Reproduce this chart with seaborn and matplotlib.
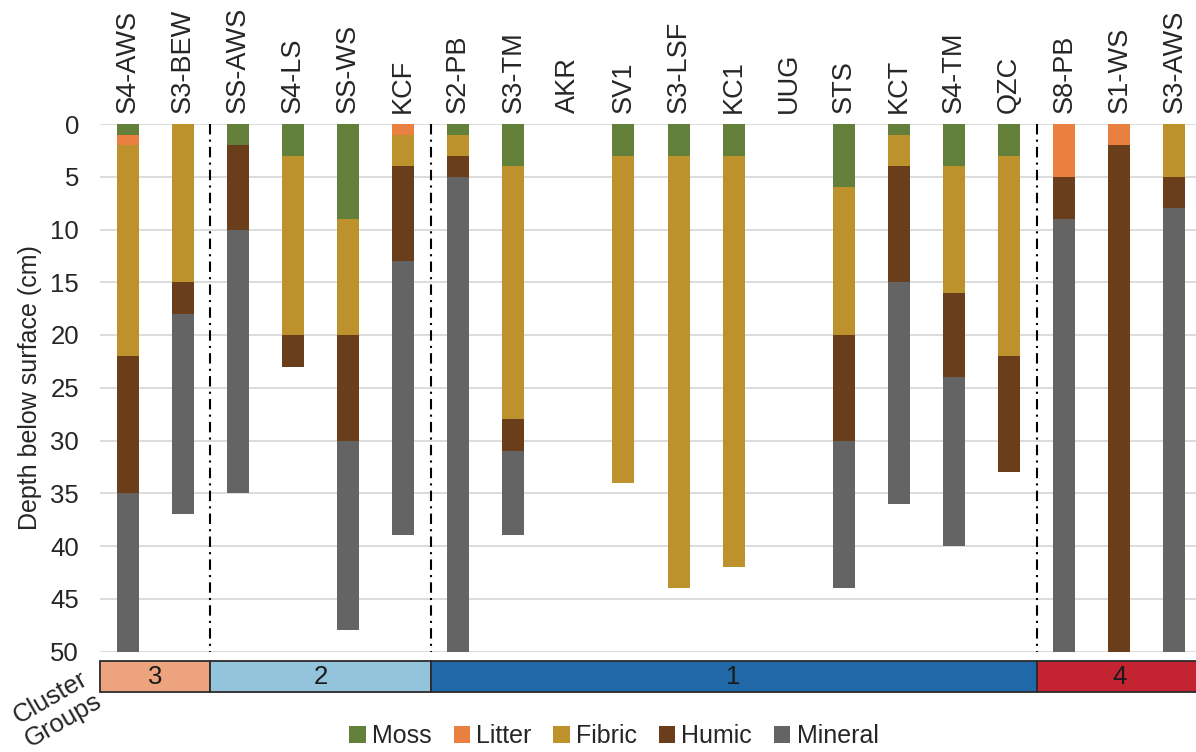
import numpy as np
import pandas as pd
import matplotlib
matplotlib.use("Agg")
import matplotlib.pyplot as plt
from matplotlib.patches import Patch, Rectangle
import seaborn as sns

# Sites (left to right) and horizon thicknesses in cm, from surface downward
sites = ["S4-AWS", "S3-BEW", "SS-AWS", "S4-LS", "SS-WS", "KCF", "S2-PB", "S3-TM",
         "AKR", "SV1", "S3-LSF", "KC1", "UUG", "STS", "KCT", "S4-TM", "QZC",
         "S8-PB", "S1-WS", "S3-AWS"]
moss    = [1, 0, 2, 3, 9, 0, 1, 4, 0, 3, 3, 3, 0, 6, 1, 4, 3, 0, 0, 0]
litter  = [1, 0, 0, 0, 0, 1, 0, 0, 0, 0, 0, 0, 0, 0, 0, 0, 0, 5, 2, 0]
fibric  = [20, 15, 0, 17, 11, 3, 2, 24, 0, 31, 41, 39, 0, 14, 3, 12, 19, 0, 0, 5]
humic   = [13, 3, 8, 3, 10, 9, 2, 3, 0, 0, 0, 0, 0, 10, 11, 8, 11, 4, 48, 3]
mineral = [15, 19, 25, 0, 18, 26, 45, 8, 0, 0, 0, 0, 0, 14, 21, 16, 0, 41, 0, 42]

layer_names = ["Moss", "Litter", "Fibric", "Humic", "Mineral"]
layer_colors = ["#63803b", "#ea8040", "#bd922d", "#6a3d1b", "#646464"]

# Cluster groups: label, first site index, last site index
cluster_labels = ["3", "2", "1", "4"]
cluster_start = [0, 2, 6, 17]
cluster_end = [1, 5, 16, 19]
cluster_colors = ["#eea37f", "#93c4dc", "#2068a8", "#c42331"]

W, H = 1196, 752
sns.set_style("white")
plt.rcParams["font.family"] = ["Liberation Sans", "DejaVu Sans"]

fig = plt.figure(figsize=(W / 100, H / 100), dpi=100)
ax = fig.add_axes([100 / W, 1 - 651.5 / H, 1102 / W, 527.5 / H])

df = pd.DataFrame({"site": sites, "Moss": moss, "Litter": litter,
                   "Fibric": fibric, "Humic": humic, "Mineral": mineral})
cum = df[layer_names].cumsum(axis=1)

# Stack by overdrawing cumulative depths, deepest horizon first
for name, color in zip(reversed(layer_names), reversed(layer_colors)):
    sns.barplot(x=df["site"], y=cum[name], order=sites, color=color,
                saturation=1, width=0.4, linewidth=0, ax=ax, zorder=3)

ax.set_xlim(-0.5, len(sites) - 0.5)
ax.set_ylim(50, 0)
ax.set_yticks(np.arange(0, 51, 5))
ax.yaxis.grid(True, color="#dcdcdc", linewidth=1.4, zorder=0)
ax.xaxis.grid(False)
ax.set_axisbelow(True)
for s in ax.spines.values():
    s.set_visible(False)

ax.xaxis.tick_top()
ax.tick_params(axis="x", length=0, pad=8, labelrotation=90, labelsize=19.5)
ax.tick_params(axis="y", length=0, pad=15, labelsize=18.5)
ax.set_xlabel("")
ax.set_ylabel("Depth below surface (cm)", fontsize=18, labelpad=6)

# Dash-dot separators between cluster groups
for b in cluster_start[1:]:
    ax.plot([b - 0.5, b - 0.5], [0, 50], color="black", linewidth=1.5,
            linestyle=(0, (5, 2.5, 1, 2.5)), zorder=4, clip_on=False)

# Cluster group strip
cax = fig.add_axes([100 / W, 1 - 691.5 / H, 1102 / W, 31 / H])
cax.set_xlim(-0.5, len(sites) - 0.5)
cax.set_ylim(0, 1)
cax.axis("off")
for lab, s0, s1, c in zip(cluster_labels, cluster_start, cluster_end, cluster_colors):
    cax.add_patch(Rectangle((s0 - 0.5, 0), s1 - s0 + 1, 1, facecolor=c,
                            edgecolor="#2b2b2b", linewidth=1.3, clip_on=False))
    cax.text((s0 + s1) / 2, 0.47, lab, ha="center", va="center",
             fontsize=18.5, color="#1a1a1a")

fig.text(57 / W, 1 - 709 / H, "Cluster\nGroups", rotation=30, ha="center",
         va="center", multialignment="center", fontsize=18.5, linespacing=1.15,
         rotation_mode="anchor")

handles = [Patch(facecolor=c, edgecolor="none", label=n)
           for n, c in zip(layer_names, layer_colors)]
fig.legend(handles=handles, loc="center", bbox_to_anchor=(614 / W, 1 - 736 / H),
           ncol=5, frameon=False, fontsize=18, handlelength=0.65,
           handleheight=0.65, handletextpad=0.25, columnspacing=0.88,
           borderaxespad=0, borderpad=0)

fig.savefig("out.png", dpi=100)
